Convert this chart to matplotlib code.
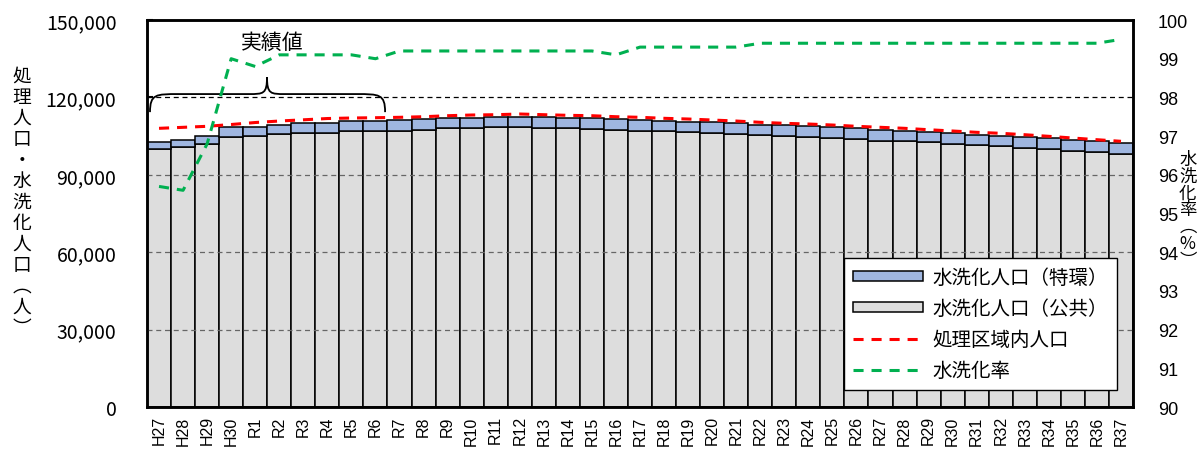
import matplotlib
matplotlib.use("Agg")
import matplotlib.pyplot as plt
import numpy as np
from matplotlib import font_manager
from matplotlib.path import Path
from matplotlib.patches import PathPatch, Patch
from matplotlib.lines import Line2D
from matplotlib.ticker import FuncFormatter, MultipleLocator

plt.rcParams['font.family'] = ['Noto Sans CJK JP', 'DejaVu Sans']

_installed = {f.name for f in font_manager.fontManager.ttflist}
NARROW = ('Liberation Sans Narrow' if 'Liberation Sans Narrow' in _installed
          else 'Liberation Sans')

# 年度
years = ['H27', 'H28', 'H29', 'H30',
         'R1', 'R2', 'R3', 'R4', 'R5', 'R6', 'R7', 'R8', 'R9', 'R10',
         'R11', 'R12', 'R13', 'R14', 'R15', 'R16', 'R17', 'R18', 'R19', 'R20',
         'R21', 'R22', 'R23', 'R24', 'R25', 'R26', 'R27', 'R28', 'R29', 'R30',
         'R31', 'R32', 'R33', 'R34', 'R35', 'R36', 'R37']

# 水洗化人口（公共）
pop_public = [100000, 100660, 101820, 104770, 104900, 105700, 106090, 106200,
              106860, 107090, 107090, 107480, 108020, 108020, 108410, 108410,
              108260, 108020, 107750, 107480, 107090, 106860, 106470, 106200,
              105810, 105420, 105040, 104650, 104150, 103760, 103220, 102990,
              102600, 101940, 101550, 101050, 100390, 100000, 99340, 98840,
              98060]

# 水洗化人口（特環）
pop_special = [2800, 2800, 3100, 3600, 3600, 3600, 3900, 3900, 3900, 3800,
               4100, 4100, 3900, 3900, 3900, 4100, 4000, 3900, 4100, 4100,
               4100, 4100, 4100, 4100, 4100, 3900, 4100, 4100, 4200, 4200,
               4200, 4100, 4100, 4100, 4000, 4100, 4100, 4100, 4100, 4100,
               4200]

# 処理区域内人口
pop_area = [108020, 108410, 108800, 109500, 110270, 110850, 111320, 111820,
            112020, 112130, 112290, 112520, 112910, 113180, 113300, 113570,
            113300, 113060, 112910, 112520, 112290, 111900, 111630, 111240,
            110850, 110350, 109960, 109690, 109300, 108800, 108410, 108020,
            107480, 106980, 106470, 106090, 105540, 104920, 104260, 103610,
            102990]

# 水洗化率（%）
flush_rate = [95.7, 95.6, 96.8, 99.0, 98.8, 99.1, 99.1, 99.1, 99.1, 99.0,
              99.2, 99.2, 99.2, 99.2, 99.2, 99.2, 99.2, 99.2, 99.2, 99.1,
              99.3, 99.3, 99.3, 99.3, 99.3,
              99.4, 99.4, 99.4, 99.4, 99.4, 99.4, 99.4, 99.4, 99.4, 99.4,
              99.4, 99.4, 99.4, 99.4, 99.4, 99.5]

label_special = '水洗化人口（特環）'
label_public = '水洗化人口（公共）'
label_area = '処理区域内人口'
label_rate = '水洗化率'

c_public = '#DDDDDD'
c_special = '#9FB6E0'
c_area = '#FF0000'
c_rate = '#00B050'
dash = (0, (3.3, 2.6))

x = np.arange(len(years))

fig = plt.figure(figsize=(12.01, 4.52), dpi=100)
ax = fig.add_axes([0.1224, 0.0973, 0.8210, 0.8562])
ax2 = ax.twinx()

# 積み上げ棒
ax.bar(x, pop_public, width=1.0, color=c_public, edgecolor='black',
       linewidth=1.1, zorder=2)
ax.bar(x, pop_special, width=1.0, bottom=pop_public, color=c_special,
       edgecolor='black', linewidth=1.1, zorder=2)

# 目盛線
ax.set_ylim(0, 150000)
ax.yaxis.set_major_locator(MultipleLocator(30000))
top_bar = max(p + s for p, s in zip(pop_public, pop_special))
for yv in ax.get_yticks():
    if 0 < yv < 150000:
        col = '#666666' if yv < top_bar else 'black'
        ax.axhline(yv, color=col, lw=0.9, ls=(0, (4, 3)), zorder=3)

# 処理区域内人口
ax.plot(x, pop_area, color=c_area, lw=2.2, ls=dash, zorder=5)

# 水洗化率
ax2.plot(x, flush_rate, color=c_rate, lw=2.2, ls=dash, zorder=5)
ax2.set_ylim(90, 100)
ax2.yaxis.set_major_locator(MultipleLocator(1))

ax.set_xlim(-0.5, len(years) - 0.5)
ax.set_xticks(x)
ax.set_xticklabels(years, rotation=90, fontsize=11.5,
                   family=['Liberation Sans', 'DejaVu Sans'])
ax.tick_params(axis='x', length=0, pad=6)
ax.yaxis.set_major_formatter(FuncFormatter(lambda v, p: f'{int(v):,}'))
ax.tick_params(axis='y', direction='in', length=4, width=1.5, pad=22,
               labelsize=14)
ax2.tick_params(axis='y', direction='in', length=0, pad=18, labelsize=13)
for t in ax2.get_yticklabels():
    t.set_family([NARROW, 'DejaVu Sans'])

for a in (ax, ax2):
    for s in a.spines.values():
        s.set_linewidth(1.8)
        s.set_color('black')

# 実績値の括弧
def curly_brace(axis, x0, x1, xm, y_end, y_mid, y_tip, d_end, d_tip):
    verts = [
        (x0, y_end),
        (x0, y_mid), (x0 + d_end * 0.2, y_mid), (x0 + d_end, y_mid),
        (xm - d_tip, y_mid),
        (xm - d_tip * 0.2, y_mid), (xm, y_mid), (xm, y_tip),
        (xm, y_mid), (xm + d_tip * 0.2, y_mid), (xm + d_tip, y_mid),
        (x1 - d_end, y_mid),
        (x1 - d_end * 0.2, y_mid), (x1, y_mid), (x1, y_end),
    ]
    codes = [Path.MOVETO,
             Path.CURVE4, Path.CURVE4, Path.CURVE4,
             Path.LINETO,
             Path.CURVE4, Path.CURVE4, Path.CURVE4,
             Path.CURVE4, Path.CURVE4, Path.CURVE4,
             Path.LINETO,
             Path.CURVE4, Path.CURVE4, Path.CURVE4]
    axis.add_patch(PathPatch(Path(verts, codes), fill=False, lw=1.3,
                             edgecolor='black', zorder=6, clip_on=False))

curly_brace(ax, -0.375, 9.4, 4.49, 114300, 121300, 127900, 1.2, 0.75)
ax.text(4.72, 141500, '実績値', ha='center', va='center', fontsize=15,
        zorder=7)

# 凡例
handles = [
    Patch(facecolor=c_special, edgecolor='black', linewidth=1.1),
    Patch(facecolor=c_public, edgecolor='black', linewidth=1.1),
    Line2D([], [], color=c_area, lw=2.2, ls=dash),
    Line2D([], [], color=c_rate, lw=2.2, ls=dash),
]
labels = [label_special, label_public, label_area, label_rate]
leg = ax2.legend(handles, labels, loc='upper left',
                 bbox_to_anchor=(0.707, 0.385), fontsize=14,
                 frameon=True, fancybox=False, edgecolor='black',
                 framealpha=1, handlelength=3.6, handleheight=0.45,
                 labelspacing=0.52, borderpad=0.45, handletextpad=0.5,
                 borderaxespad=0)
leg.get_frame().set_linewidth(1.0)
leg.set_zorder(10)

# 軸ラベル（縦書き）
left_chars = ['処', '理', '人', '口', '・', '水', '洗', '化', '人', '口',
              '︵', '人', '︶']
right_chars = ['水', '洗', '化', '率', '︵', '%', '︶']
fig.text(0.0183, 0.552, '\n'.join(left_chars), ha='center', va='center',
         fontsize=13.5, linespacing=1.0)
fig.text(0.989, 0.535, '\n'.join(right_chars), ha='center', va='center',
         fontsize=12.5, linespacing=0.92)

fig.savefig('out.png', dpi=100)
